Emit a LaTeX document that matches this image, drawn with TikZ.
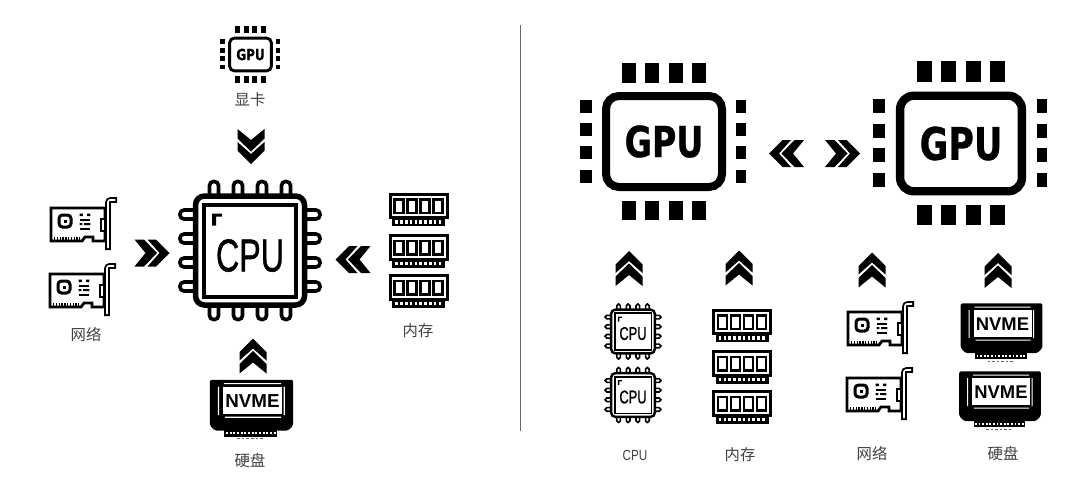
\documentclass[tikz,border=0pt]{standalone}
\usepackage{fontspec}
\setmainfont{Liberation Sans}
\newfontfamily\cjk{Noto Sans CJK SC}
\newfontfamily\gpufont[FakeBold=0.8]{DejaVu Sans Bold}
\newfontfamily\cpufont[FakeBold=1.2]{Liberation Sans}
\usepackage{tikz}
\tikzset{
    icon/.style={scale=#1, /utils/exec={\pgfmathsetlengthmacro\iconpx{#1*0.75pt}}},
    bolder/.style={/utils/exec={\pgfmathsetlengthmacro\iconpx{#1*\iconpx}}},
    tag/.style={font=\cjk\fontsize{11.5}{13}\selectfont, text=black!75},
    chevrons/.pic={
        \fill (0,-17.5) -- (13.5,-4) -- (13.5,4.5) -- (0,-7.5) -- (-13.5,4.5) -- (-13.5,-4) -- cycle;
        \fill (0,-5) -- (13.5,8) -- (13.5,17.5) -- (0,6.5) -- (-13.5,17.5) -- (-13.5,8) -- cycle;
    },
    cpuchip/.pic={
        \foreach \p in {-36,-12,12,36} {
            \draw[line width=3.6*\iconpx, rounded corners=4*\iconpx] (\p-4.5,-54) -- (\p-4.5,-69) -- (\p+4.5,-69) -- (\p+4.5,-54);
            \draw[line width=3.6*\iconpx, rounded corners=4*\iconpx] (\p-4.5,54) -- (\p-4.5,69) -- (\p+4.5,69) -- (\p+4.5,54);
            \draw[line width=3.6*\iconpx, rounded corners=4*\iconpx] (-54,\p-4.5) -- (-70,\p-4.5) -- (-70,\p+4.5) -- (-54,\p+4.5);
            \draw[line width=3.6*\iconpx, rounded corners=4*\iconpx] (54,\p-4.5) -- (70,\p-4.5) -- (70,\p+4.5) -- (54,\p+4.5);
        }
        \draw[line width=5.5*\iconpx, rounded corners=9*\iconpx, fill=white] (-54.5,-54.5) rectangle (54.5,54.5);
        \draw[line width=4*\iconpx] (-46,-46) rectangle (46,46);
        \fill (-38,-37) -- (-28,-37) -- (-28,-34) -- (-34,-34) -- (-34,-25) -- (-38,-25) -- cycle;
        \node[transform shape, xscale=.7, inner sep=0pt, font=\cpufont\fontsize{34.5}{36}\selectfont] (name) at (0,5) {CPU};
    },
    gpuchip/.pic={
        \foreach \p in {-35,-11.7,11.7,35} {
            \fill (\p-7,-78.5) rectangle (\p+7,-59);
            \fill (\p-7,59) rectangle (\p+7,78);
        }
        \foreach \p in {-35.5,-12,11,35} {
            \fill (-84,\p-6.5) rectangle (-72,\p+6.5);
            \fill (72,\p-6.5) rectangle (82,\p+6.5);
        }
        \draw[line width=8*\iconpx, rounded corners=13*\iconpx] (-58,-45.5) rectangle (58,45.5);
        \node[transform shape, xscale=.78, inner sep=0pt, font=\gpufont\fontsize{32}{34}\selectfont] (name) at (0,0) {GPU};
    },
    niccard/.pic={
        \draw[line width=2.8*\iconpx, fill=white] (-31,-17) -- (23,-17) -- (23,16) -- (11,16) -- (11,12) -- (3,12) -- (0,16) -- (-31,16) -- cycle;
        \draw[line width=2.8*\iconpx, dash pattern=on 1.4*\iconpx off 1.4*\iconpx] (-28,13.5) -- (-2,13.5);
        \draw[line width=3*\iconpx, rounded corners=3.5*\iconpx] (-23,-10) rectangle (-11,2);
        \fill (-18.5,-5.5) rectangle (-15.5,-2.5);
        \fill (-2.5,-11.5) rectangle (0.8,-9) (5,-11.5) rectangle (8.3,-9);
        \fill (-2.5,-6.5) rectangle (8.3,-4.5);
        \fill (-2.5,-2) rectangle (0.3,0) (2,-2) rectangle (8.3,0);
        \fill (-2.5,2.5) rectangle (8.3,4.5);
        \draw[line width=2*\iconpx, fill=white] (19,-6) rectangle (23,6);
        \draw[line width=5.6*\iconpx, rounded corners=2.5*\iconpx] (35,-25) -- (26,-25) -- (26,25);
        \draw[white, line width=1.6*\iconpx, rounded corners=2*\iconpx] (33,-25) -- (26,-25) -- (26,23);
    },
    ramstick/.pic={
        \draw[line width=3*\iconpx, fill=white] (-28.5,-15.5) rectangle (28.5,8);
        \foreach \p in {-19.5,-6.5,6.5,19.5} {
            \draw[line width=2.6*\iconpx] (\p-4.5,-10) rectangle (\p+4.5,3.5);
        }
        \fill (-26.5,8) rectangle (26.5,16.5);
        \foreach \p in {-22,-17.2,-12.4,-7.6,-2.8,2,6.8,11.6,16.4,21.2} {
            \fill[white] (\p-1.3,10.5) rectangle (\p+1.3,14);
        }
    },
    nvmedrive/.pic={
        \fill[rounded corners=1.5*\iconpx] (-40.8,-24.7) -- (40.8,-24.7) -- (40.8,20) -- (36,25) -- (-36,25) -- (-40.8,20) -- cycle;
        \fill[white] (-28,-18) rectangle (30,9.3);
        \fill[white] (-33,-18) rectangle (-31.8,10) (31.5,-18) rectangle (32.7,10);
        \fill[white] (-27,-21.5) rectangle (29,-20.5) (-26,11.5) rectangle (29,12.5);
        \fill (-26.5,24) rectangle (25,31);
        \draw[white, line width=2*\iconpx, dash pattern=on 1.8*\iconpx off 1.8*\iconpx] (-25,27.5) -- (24,27.5);
        \draw[black!60, line width=.8*\iconpx, dash pattern=on 2.5*\iconpx off 2*\iconpx] (-14,33) -- (12,33);
        \node[transform shape, inner sep=0pt, font=\bfseries\fontsize{13.8}{15}\selectfont] (name) at (1,-4) {NVME};
    },
}

\begin{document}
\begin{tikzpicture}[x=0.75pt, y=-0.75pt]
    \useasboundingbox (0,0) rectangle (1080,494);
    % left half
    \pic[icon=1] (maincpu) at (250,250.5) {cpuchip};
    \pic[icon=.36] (topgpu) at (250.5,54.5) {gpuchip};
    \pic[icon=1] (leftnicA) at (82,225) {niccard};
    \pic[icon=1] (leftnicB) at (81,291) {niccard};
    \pic[icon=1] (leftramA) at (418.7,209.5) {ramstick};
    \pic[icon=1] (leftramB) at (418.7,251) {ramstick};
    \pic[icon=1] (leftramC) at (418.7,291) {ramstick};
    \pic[icon=1.02] (leftnvme) at (251.5,405) {nvmedrive};
    \pic[icon=1, rotate=180] (chevtop) at (251,146.5) {chevrons};
    \pic[icon=1, rotate=-90] (chevleft) at (152,253) {chevrons};
    \pic[icon=1, rotate=90] (chevright) at (353,259.5) {chevrons};
    \pic[icon=1] (chevbottom) at (253,356) {chevrons};
    \node[tag] (labgpu) at (250,100) {显卡};
    \node[tag] (labnic) at (86,335) {网络};
    \node[tag] (labram) at (418,331) {内存};
    \node[tag] (labdisk) at (250,461) {硬盘};
    % separator
    \coordinate (septop) at (520.5,25);
    \coordinate (sepbot) at (520.5,431);
    \draw[black!60, line width=.9pt] (septop) -- (sepbot);
    % right half
    \pic[icon=1] (gpuA) at (664,141.5) {gpuchip};
    \pic[icon=1.05] (gpuB) at (961,143.5) {gpuchip};
    \pic[icon=1, rotate=90] (chevA) at (786.5,153.5) {chevrons};
    \pic[icon=1, rotate=-90] (chevB) at (842.5,153.5) {chevrons};
    \pic[icon=1] (chevcpu) at (629,268.5) {chevrons};
    \pic[icon=1] (chevram) at (739,268) {chevrons};
    \pic[icon=1] (chevnic) at (872,270) {chevrons};
    \pic[icon=1] (chevdisk) at (998,270.5) {chevrons};
    \pic[icon=.4, bolder=1.12] (cpuA) at (633,331.5) {cpuchip};
    \pic[icon=.4, bolder=1.12] (cpuB) at (633,395) {cpuchip};
    \pic[icon=1] (ramA) at (742,325.5) {ramstick};
    \pic[icon=1] (ramB) at (742,367) {ramstick};
    \pic[icon=1] (ramC) at (742,407) {ramstick};
    \pic[icon=1] (nicA) at (879,329) {niccard};
    \pic[icon=1] (nicB) at (878,395) {niccard};
    \pic[icon=1] (nvmeA) at (1001.5,328) {nvmedrive};
    \pic[icon=1] (nvmeB) at (1000,396) {nvmedrive};
    \node[text=black!75, font=\fontsize{11}{13}\selectfont, xscale=.8] (labcpu) at (635,455) {CPU};
    \node[tag] (labramB) at (740,455) {内存};
    \node[tag] (labnicB) at (872,454) {网络};
    \node[tag] (labdiskB) at (1003,454) {硬盘};
\end{tikzpicture}
\end{document}
